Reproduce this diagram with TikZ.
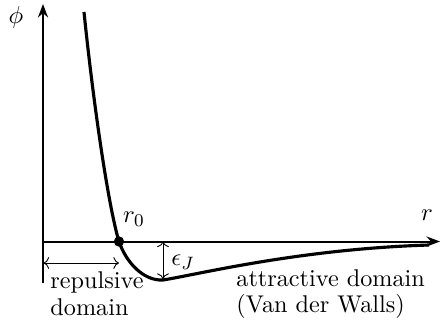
\documentclass[tikz,border=0pt]{standalone}
\usetikzlibrary{arrows.meta}
\begin{document}
\begin{tikzpicture}[x=0.446pt,y=-0.446pt,
  axis/.style={line width=0.9pt,-{Stealth[length=6pt,width=4.5pt]}},
  dim/.style={line width=0.4pt,{To[length=2.5pt]}-{To[length=2.5pt]}},
  curve/.style={line width=1.4pt},
  lbl/.style={inner sep=0pt,font=\fontsize{10.8}{13}\selectfont}]
\useasboundingbox (0,0) rectangle (440,322);
\coordinate (ybot) at (43,283);
\coordinate (ytop) at (43,4);
\coordinate (xl) at (43,241.5);
\coordinate (xr) at (440,241.5);
\coordinate (c0) at (84,12);
\coordinate (r0) at (119,241.5);
\coordinate (mn) at (163,280);
\coordinate (c3) at (429,245);
\coordinate (e0) at (163,241.5);
\coordinate (e1) at (163,279);
\coordinate (d0) at (43.5,263);
\coordinate (d1) at (119,263);
\draw[axis] (ybot) -- (ytop);
\draw[axis] (xl) -- (xr);
\draw[curve] (c0) .. controls (93,100) and (108,205) .. (r0)
  .. controls (126,262) and (143,281) .. (mn)
  .. controls (200,274) and (300,249) .. (c3);
\fill (r0) circle (2.3pt);
\draw[dim] (d0) -- (d1);
\draw[dim] (e0) -- (e1);
\node[lbl] (phi) at (16,17) {$\phi$};
\node[lbl] (rl) at (427,215) {$r$};
\node[lbl] (r0l) at (134,219) {$r_0$};
\node[lbl,anchor=west] (eps) at (171,262) {$\epsilon_J$};
\node[lbl,anchor=base west] (rep1) at (50,288) {repulsive};
\node[lbl,anchor=base west] (rep2) at (50,315) {domain};
\node[lbl,anchor=base west] (att1) at (236,286) {attractive domain};
\node[lbl,anchor=base west] (att2) at (236,312) {(Van der Walls)};
\end{tikzpicture}
\end{document}
